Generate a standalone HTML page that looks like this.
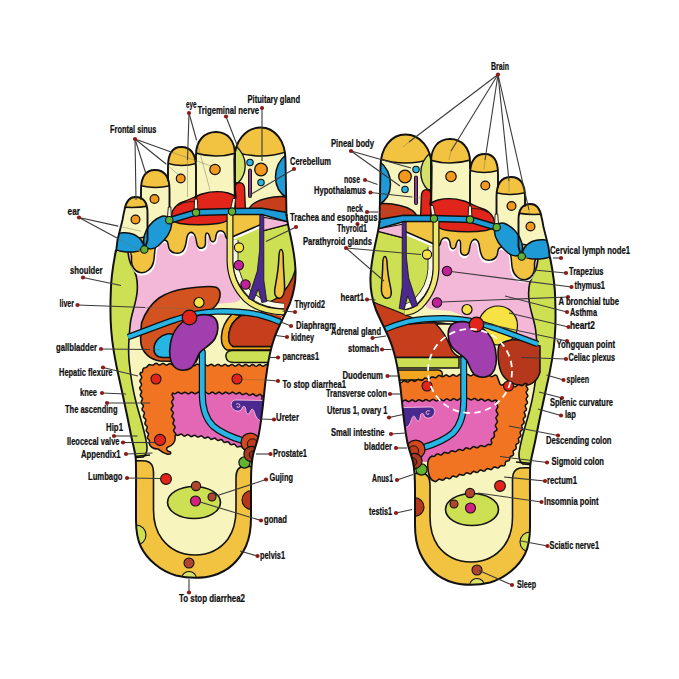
<!DOCTYPE html>
<html lang="en"><head><meta charset="utf-8"><title>Foot reflexology chart</title>
<style>html,body{margin:0;padding:0;background:#fff}body{width:679px;height:679px;overflow:hidden}svg{display:block}text{font-family:"Liberation Sans",sans-serif;font-weight:bold;font-size:10px;fill:#0d0d0d;stroke:#0d0d0d;stroke-width:0.22px}</style></head><body>
<svg width="679" height="679" viewBox="0 0 679 679">
<rect width="679" height="679" fill="#fff"/>
<defs>
<clipPath id="clipFoot">
<path d="M116,250 C113,265 111,278 110.8,292 C110.3,305 110.2,318 111.2,330 C112.3,345 115.3,362 119.5,380 C123,396 126.5,412 130,430 C132.2,442 134.8,450 135.7,458 C136.3,465 136,480 136,500 L136,520 C136,532 137.5,540 141,547 C147,559 160,571 176,575.5 C188,578.5 203,578.5 213,575.5 C229,571 240,559 246,546 C250,537 251,530 251,518 L251,482 C251,470 251.5,462 253,455 C255,447 257,443 258.5,436 C260.5,426 262.5,410 264,395 C265,384 266,376 267.5,367 C269,357 271,348 274,339 C278,327 284.5,316 290,303 C294,292 296,282 295.5,270 C295,258 292.5,245 290.5,236 C288.5,227 287,221 286.5,214 L235,212 L196,213 L168,221 L141,251 Z"/>
<path d="M196,213 L196,155 C196,141 204,132 216,132 C228,132 235,141 235,155 L235,212 Z"/>
<path d="M235,212 L234.3,160 C234.3,141 246,127.5 260.5,127.5 C275,127.5 285.5,141 285.5,160 L286.5,216 Z"/>
<path d="M168,221 L168,167 C168,154 172.5,147 181,147 C190.5,147 196,154 196,168 L196,213 Z"/>
<path d="M141,251 L141,190 C141,177 145.5,170 155,170 C164.5,170 169.5,177 169.5,190 L169.5,221 Z"/>
<path d="M116,252 L117.5,240 L122.5,220 C123.5,214 124,212 124.5,210 C126,201 129.5,197 135.5,197 C142.5,197 147.5,201.5 147.5,213 L147.5,240 L144.5,250 Z"/>
</clipPath>
<clipPath id="clipT2"><path d="M196,213 L196,155 C196,141 204,132 216,132 C228,132 235,141 235,155 L235,212 Z"/></clipPath>
<clipPath id="clipT1"><path d="M235,212 L234.3,160 C234.3,141 246,127.5 260.5,127.5 C275,127.5 285.5,141 285.5,160 L286.5,216 Z"/></clipPath>
<clipPath id="clipT3"><path d="M168,221 L168,167 C168,154 172.5,147 181,147 C190.5,147 196,154 196,168 L196,213 Z"/></clipPath>
<clipPath id="clipT4"><path d="M141,251 L141,190 C141,177 145.5,170 155,170 C164.5,170 169.5,177 169.5,190 L169.5,221 Z"/></clipPath>
<clipPath id="clipT5"><path d="M116,252 L117.5,240 L122.5,220 C123.5,214 124,212 124.5,210 C126,201 129.5,197 135.5,197 C142.5,197 147.5,201.5 147.5,213 L147.5,240 L144.5,250 Z"/></clipPath>
<clipPath id="clipFootR"><use href="#silh" transform="translate(666,7) scale(-1,1)"/></clipPath>
<path id="silh" d="M116,250 C113,265 111,278 110.8,292 C110.3,305 110.2,318 111.2,330 C112.3,345 115.3,362 119.5,380 C123,396 126.5,412 130,430 C132.2,442 134.8,450 135.7,458 C136.3,465 136,480 136,500 L136,520 C136,532 137.5,540 141,547 C147,559 160,571 176,575.5 C188,578.5 203,578.5 213,575.5 C229,571 240,559 246,546 C250,537 251,530 251,518 L251,482 C251,470 251.5,462 253,455 C255,447 257,443 258.5,436 C260.5,426 262.5,410 264,395 C265,384 266,376 267.5,367 C269,357 271,348 274,339 C278,327 284.5,316 290,303 C294,292 296,282 295.5,270 C295,258 292.5,245 290.5,236 C288.5,227 287,221 286.5,214 L235,212 L196,213 L168,221 L141,251 Z"/>
<g id="footA"><g clip-path="url(#clipFoot)"><rect x="100" y="120" width="210" height="470" fill="#F8F4BD"/></g>
<path d="M196,213 L196,155 C196,141 204,132 216,132 C228,132 235,141 235,155 L235,212 Z" fill="#F8F4BD"/>
<g clip-path="url(#clipT2)"><path d="M190,100 L242,100 L242,151 Q216.0,161 190,151 Z" fill="#F2C341" stroke="#111" stroke-width="1.6"/></g>
<path d="M235,212 L234.3,160 C234.3,141 246,127.5 260.5,127.5 C275,127.5 285.5,141 285.5,160 L286.5,216 Z" fill="#F8F4BD"/>
<g clip-path="url(#clipT1)"><path d="M229,100 L292,100 L292,150 Q260.5,162 229,150 Z" fill="#F2C341" stroke="#111" stroke-width="1.6"/></g>
<path d="M168,221 L168,167 C168,154 172.5,147 181,147 C190.5,147 196,154 196,168 L196,213 Z" fill="#F8F4BD"/>
<g clip-path="url(#clipT3)"><path d="M162,100 L202,100 L202,161.5 Q182.0,169.5 162,161.5 Z" fill="#F2C341" stroke="#111" stroke-width="1.6"/></g>
<path d="M141,251 L141,190 C141,177 145.5,170 155,170 C164.5,170 169.5,177 169.5,190 L169.5,221 Z" fill="#F8F4BD"/>
<g clip-path="url(#clipT4)"><path d="M135,100 L176,100 L176,184 Q155.5,191.0 135,184 Z" fill="#F2C341" stroke="#111" stroke-width="1.6"/></g>
<path d="M116,252 L117.5,240 L122.5,220 C123.5,214 124,212 124.5,210 C126,201 129.5,197 135.5,197 C142.5,197 147.5,201.5 147.5,213 L147.5,240 L144.5,250 Z" fill="#F8F4BD"/>
<g clip-path="url(#clipT5)"><path d="M110,100 L154,100 L154,205 Q132.0,210.0 110,205 Z" fill="#F2C341" stroke="#111" stroke-width="1.6"/></g><g clip-path="url(#clipFoot)">
<path d="M128,244 L240,226 L240,300 L215,312 L128,340 Z" fill="#F3B7D8"/>
<path d="M108,246 L128,249 C128,256 129,262 133,268 C137,275 138,284 137,293 C136,303 132,312 130.5,322 C129,335 128,348 129,360 C130.3,374 132.8,390 136.5,404 C140.2,418 145,432 146.8,445 C147.5,450 146,455 143,457 L130,458 L105,400 L105,250 Z" fill="#CDDF52" stroke="#111" stroke-width="1.6"/>
<path d="M233,238 L262,224 L262,231 L289,224 L300,260 L298,300 L283,312 L262,312 C250,304 240,292 236,276 Z" fill="#CDDF52" stroke="#111" stroke-width="1.5"/>
<path d="M262,217 L289,222 L289,224 L262,231 Z" fill="#F3B7D8" stroke="#111" stroke-width="1.1"/>
<path d="M296,268 C292,282 285,292 277,298 C272,301 268,303 264,304 L284,316 L300,300 Z" fill="#C73E1D" stroke="#111" stroke-width="1.35"/>
<path d="M252,310 L282,316 L279,324 L250,316 Z" fill="#C73E1D"/>
<path d="M113,243 L150,236 L170,217 L232,210 L232,237 L262,224 L262,214 L232,210 L232,237 C229,240 226.5,240 225.5,236 C225,232 222,230 219,231 C216,232 216,236 215.5,239 C215,242 212,243 210.5,240 C209.5,236 209,233 207,233 C205,233 205.5,238 205.5,243 C205.5,248.5 200,250 197.5,246 C196,243 196.5,236 193.5,233.5 C190.5,231 188,233 187,237 C186,242 186,248 182.5,251.5 C178.5,254.5 172,253.5 169.5,249.5 C167.5,246 169,242 166,240.5 C162,239 158,242 156,246 C154,250 155,256 153.5,262 C152,269 146,273.5 140,272.5 C134.5,271.5 131,266 131.5,259 C132,254 130,251 128,249 L113,249 Z" fill="#fff" stroke="#fff" stroke-width="2.2" transform="translate(0.8,1.8)"/>
<path d="M113,243 L150,236 L170,217 L232,210 L232,237 L262,224 L262,214 L232,210 L232,237 C229,240 226.5,240 225.5,236 C225,232 222,230 219,231 C216,232 216,236 215.5,239 C215,242 212,243 210.5,240 C209.5,236 209,233 207,233 C205,233 205.5,238 205.5,243 C205.5,248.5 200,250 197.5,246 C196,243 196.5,236 193.5,233.5 C190.5,231 188,233 187,237 C186,242 186,248 182.5,251.5 C178.5,254.5 172,253.5 169.5,249.5 C167.5,246 169,242 166,240.5 C162,239 158,242 156,246 C154,250 155,256 153.5,262 C152,269 146,273.5 140,272.5 C134.5,271.5 131,266 131.5,259 C132,254 130,251 128,249 L113,249 Z" fill="#F2C341" stroke="#111" stroke-width="1.5"/>
<path d="M172.5,211 C175,206 179,203 184,201.5 C190,199.5 196,196 202,194 C210,191.5 220,191 228,193 C231,194 234,195 236,197 L235,187 C236,181 243.5,181 244.5,187.5 L245.5,212 L232,214 C232,219 226,222.5 218,223.5 C206,225 190,225 180,223.5 C175,222.5 172,220 171,218 Z" fill="#E1251B" stroke="#111" stroke-width="1.35"/>
<path d="M178,205.5 C184,202 190,201 198,202" fill="none" stroke="#111" stroke-width="0.8"/>
<path d="M248,211 C250,205 257,200.5 266,198.5 C274,196.5 281,196 288,197 L289,216 L248,213 Z" fill="#C73E1D" stroke="#111" stroke-width="1.35"/>
<path d="M287,154 C279,160 275.5,168 275.5,177 C275.5,186 279,193 287,198 L292,198 L292,154 Z" fill="#1E9BD7" stroke="#111" stroke-width="1.5"/>
<path d="M234.6,145 C241,150 245.3,158 245.2,166 C245,173 242,179 238.3,182.6 L234.6,182.6 Z" fill="#D3E06A" stroke="#111" stroke-width="1.35"/>
<path d="M170,217.2 L196,209.6 L232,208.6 L262,208.2 L290,213 L290,222.5 L262,214.6 L232,214.4 L196,215.4 L171,223 Z" fill="#1E9BD7" stroke="#111" stroke-width="1.5"/>
<path d="M146.5,230 C150,224 156,218.5 162,216.3 C167,215 171.5,219 171.5,225 C171,232 165,240 158,246 C153.5,249.5 147.5,250 145,246.5 C142.5,243 143.5,236 146.5,230 Z" fill="#1E9BD7" stroke="#111" stroke-width="1.5"/>
<path d="M112,236 C118,232.5 127,231.5 134,234.5 C140,237.5 143.5,242.5 143.5,247 C142.5,251 134,252.5 126,252 C120,251.5 115,250 112,248.5 Z" fill="#1E9BD7" stroke="#111" stroke-width="1.5"/>
<path d="M130,461 C134,461 142,460.5 146,461 C151,462 153.5,466 153.5,472 L153.5,510 C153.5,522 156,531 162,539 C170,549.5 182,555 195,555 C208,555 220,549.5 228,539 C233.5,531 236,522 236,510 L236,478 C236,470 239,466.5 244,466.5 L256,466.5 L256,590 L130,590 Z" fill="#F2C341" stroke="#111" stroke-width="1.6"/>
<path d="M134,456.5 C140,456 146,455.5 150,455" fill="none" stroke="#111" stroke-width="1.5"/>
<ellipse cx="194" cy="502.5" rx="26.5" ry="16" fill="#CDDF52" stroke="#111" stroke-width="1.6"/>
<circle cx="251.5" cy="500" r="9.5" fill="#B5371C" stroke="#111" stroke-width="1.1" />
<circle cx="136" cy="535" r="10" fill="#CDDF52" stroke="#111" stroke-width="1.1" />
<circle cx="189" cy="579" r="7.5" fill="#D9E26A" stroke="#111" stroke-width="1.1" />
</g></g>
<g id="footB"><g clip-path="url(#clipFoot)">
<path d="M264,400.5 L236,400 C231,400 229.8,405 232.8,408.7 C236,412.3 241.8,411.8 242.2,407.6 C243,405.8 245.2,406 245.6,408.5 C246,411 246,413.8 248,414.2 C250,414.2 250,410 252,409.2 C254,409 254.2,413 256,416.5 C257.5,419.2 259,420.3 261,420.8 L264,420.5 Z" fill="#4B2A8F" stroke="#F3C4E4" stroke-width="0.9"/>
<path d="M236.2,404.2 C238.6,402.8 240.6,404.6 239.6,406.6 C238.8,408 236.8,407.6 237,406.2" fill="none" stroke="#F3C4E4" stroke-width="1"/>
<path d="M235.3,240 L235.3,262 C236,274 241,285 249.5,293.5 C257,300.5 268,305.5 284,306" fill="none" stroke="#111" stroke-width="6.2" stroke-linecap="butt"/>
<path d="M235.3,240 L235.3,262 C236,274 241,285 249.5,293.5 C257,300.5 268,305.5 284,306" fill="none" stroke="#FBF8E6" stroke-width="4.6" stroke-linecap="butt"/>
<path d="M230,214 L230,262 C230.5,276 236,289 246,299 C255,307.5 268,311.5 284,312" fill="none" stroke="#111" stroke-width="7" stroke-linecap="butt"/>
<path d="M230,214 L230,262 C230.5,276 236,289 246,299 C255,307.5 268,311.5 284,312" fill="none" stroke="#EFE872" stroke-width="4.6" stroke-linecap="butt"/>
<path d="M259.8,215 L263.8,215 L263.8,280 L266.8,301.5 L261.8,302.5 L258.3,289 L253.5,300.5 L248.3,298.5 L257.3,271 L259.6,250 Z" fill="#4B2A8F" stroke="#111" stroke-width="0.8"/>
<path d="M281,249.5 C283,249.5 283.3,254 283.3,260 C283.3,272 285,282 284.5,290 C284,296 281,299 278,298 C274.5,297 274,292 275.5,285 C277,277 278.5,268 278.8,259 C279,253 279.3,249.5 281,249.5 Z" fill="#F2C341" stroke="#111" stroke-width="1.5"/>
<path d="M128,337 C145,331 162,324 176,319.5 C186,316 200,312 216,311.5 C232,311 248,312.5 258,314.5 C268,317 276,320 284,323.5" fill="none" stroke="#111" stroke-width="6.6"/>
<path d="M128,337 C145,331 162,324 176,319.5 C186,316 200,312 216,311.5 C232,311 248,312.5 258,314.5 C268,317 276,320 284,323.5" fill="none" stroke="#27B5E6" stroke-width="4.2"/>
<path d="M202.3,352 L202.3,394 C202.3,408 205,418 213,426 C221,433 232,437.5 244,441" fill="none" stroke="#111" stroke-width="7" stroke-linecap="round"/>
<path d="M202.3,352 L202.3,394 C202.3,408 205,418 213,426 C221,433 232,437.5 244,441" fill="none" stroke="#27B5E6" stroke-width="4.6" stroke-linecap="round"/>
<path d="M196,316 C204,313.5 212,314.5 215.5,319 C219,324 218.5,332 215,338.5 C211,345.5 203,348 199.5,353 C196,358.5 196,364 191,368 C186,371.5 178,371 174,366.5 C169.5,361.5 169,352 170.5,343 C172,334.5 176,327.5 182,322.5 C186,319 191,317.5 196,316 Z" fill="#A23FAE" stroke="#111" stroke-width="1.6"/>
<circle cx="244.5" cy="462.5" r="5.6" fill="#62B233" stroke="#111" stroke-width="1.2" />
<circle cx="250.3" cy="442.4" r="9.3" fill="#D4481F" stroke="#111" stroke-width="1.3" />
<circle cx="252.5" cy="444" r="5.2" fill="#C03C1C" stroke="#111" stroke-width="1.0" />
<circle cx="251.5" cy="454" r="7.6" fill="#A93A20" stroke="#111" stroke-width="1.2" />
<circle cx="253.5" cy="455" r="4.2" fill="#93301A" stroke="#111" stroke-width="0.9" />
</g>
<path d="M116,250 C113,265 111,278 110.8,292 C110.3,305 110.2,318 111.2,330 C112.3,345 115.3,362 119.5,380 C123,396 126.5,412 130,430 C132.2,442 134.8,450 135.7,458 C136.3,465 136,480 136,500 L136,520 C136,532 137.5,540 141,547 C147,559 160,571 176,575.5 C188,578.5 203,578.5 213,575.5 C229,571 240,559 246,546 C250,537 251,530 251,518 L251,482 C251,470 251.5,462 253,455 C255,447 257,443 258.5,436 C260.5,426 262.5,410 264,395 C265,384 266,376 267.5,367 C269,357 271,348 274,339 C278,327 284.5,316 290,303 C294,292 296,282 295.5,270 C295,258 292.5,245 290.5,236 C288.5,227 287,221 286.5,214" fill="none" stroke="#111" stroke-width="2.0" stroke-linejoin="round"/><path d="M196,162 L196,155 C196,141 204,132 216,132 C228,132 235,141 235,155 L235,212" fill="none" stroke="#111" stroke-width="1.9" stroke-linejoin="round"/>
<path d="M235,212 L234.3,160 C234.3,141 246,127.5 260.5,127.5 C275,127.5 285.5,141 285.5,160 L286.5,216" fill="none" stroke="#111" stroke-width="1.9" stroke-linejoin="round"/>
<path d="M168,181 L168,167 C168,154 172.5,147 181,147 C190.5,147 196,154 196,168 L196,213" fill="none" stroke="#111" stroke-width="1.9" stroke-linejoin="round"/>
<path d="M141,199.5 L141,190 C141,177 145.5,170 155,170 C164.5,170 169.5,177 169.5,190 L169.5,221" fill="none" stroke="#111" stroke-width="1.9" stroke-linejoin="round"/>
<path d="M116,252 L117.5,240 L122.5,220 C123.5,214 124,212 124.5,210 C126,201 129.5,197 135.5,197 C142.5,197 147.5,201.5 147.5,213 L147.5,240 L144.5,250" fill="none" stroke="#111" stroke-width="1.9" stroke-linejoin="round"/><circle cx="215" cy="169.5" r="5.2" fill="#F39A1E" stroke="#111" stroke-width="1.2" />
<circle cx="180.7" cy="178.5" r="4.4" fill="#F39A1E" stroke="#111" stroke-width="1.2" />
<circle cx="154.5" cy="199" r="4.4" fill="#F39A1E" stroke="#111" stroke-width="1.2" />
<circle cx="135.5" cy="219.5" r="4.4" fill="#F39A1E" stroke="#111" stroke-width="1.2" />
<circle cx="261" cy="169.5" r="6.3" fill="#F39A1E" stroke="#111" stroke-width="1.3" />
<circle cx="250" cy="162.5" r="3.2" fill="#27B5E6" stroke="#111" stroke-width="1.1" />
<circle cx="261" cy="182.5" r="3.2" fill="#27B5E6" stroke="#111" stroke-width="1.1" />
<rect x="248.6" y="169" width="2.8" height="28.5" rx="1.4" fill="#A23FAE" stroke="#111" stroke-width="1.1"/>
<path d="M168.29999999999998,207 L170.9,207 L171.3,217 L167.5,217 Z" fill="#FBF6D8" stroke="#111" stroke-width="0.9" stroke-linejoin="round"/>
<path d="M194.7,199 L197.3,199 L197.9,209.5 L194.1,209.5 Z" fill="#FBF6D8" stroke="#111" stroke-width="0.9" stroke-linejoin="round"/>
<path d="M232.89999999999998,198.5 L235.5,198.5 L234.5,208.5 L230.7,208.5 Z" fill="#FBF6D8" stroke="#111" stroke-width="0.9" stroke-linejoin="round"/>
<circle cx="144.3" cy="249.5" r="3.7" fill="#62B233" stroke="#111" stroke-width="1.1" />
<circle cx="169.3" cy="220.2" r="3.7" fill="#62B233" stroke="#111" stroke-width="1.1" />
<circle cx="196" cy="212.6" r="3.7" fill="#62B233" stroke="#111" stroke-width="1.1" />
<circle cx="232" cy="211.6" r="3.7" fill="#62B233" stroke="#111" stroke-width="1.1" />
<circle cx="239" cy="247.5" r="4.6" fill="#F6E343" stroke="#111" stroke-width="1.1" />
<circle cx="199" cy="302.5" r="5" fill="#F6E343" stroke="#111" stroke-width="1.2" />
<circle cx="189.5" cy="317.5" r="7.3" fill="#E1251B" stroke="#111" stroke-width="1.2" />
<circle cx="166" cy="479" r="5.4" fill="#E1251B" stroke="#111" stroke-width="1.1" />
<circle cx="196" cy="486" r="4.6" fill="#B0452F" stroke="#111" stroke-width="1.1" />
<circle cx="212" cy="497" r="4" fill="#B0452F" stroke="#111" stroke-width="1.1" />
<circle cx="195.5" cy="501" r="5" fill="#D3227F" stroke="#111" stroke-width="1.1" />
<circle cx="189" cy="563" r="5" fill="#B0452F" stroke="#111" stroke-width="1.1" /></g>
</defs>
<g id="left-foot">
<use href="#footA"/>
<g clip-path="url(#clipFoot)">
<path d="M130,338 L176,321 L216,313 L260,316 L262,300 L215,304 Z" fill="#F8F4BD"/>
<path d="M141.5,323 C145,313 151,304 159,298 C167,292.5 176,290 186,288.5 C198,287 210,285.3 216,287.3 C221,289.3 221,296 218.5,301.5 C215.5,307.5 210,311 204,313 L206,340 L196,362 L160,361 C150,359.5 143,353 141,344 C140,337 141,330 141.5,324 Z" fill="#D2531F" stroke="#111" stroke-width="1.6"/>
<path d="M167,334 C160,335.5 154.5,341 154,348 C153.5,354 157,357.5 163,357.5 L176,357.5 L176,336 C173,334 170,333.5 167,334 Z" fill="#27B5E6" stroke="#111" stroke-width="1.6"/>
<path d="M212,314 L262,316 L262,366 L212,366 Z" fill="#F8F4BD"/>
<path d="M232,314 C226,320 222,328 221.5,336 C221,343 223,348 227,350 L272,350 L272,346.5 L233,346.5 C229,344 228,339 229,333 C230,326 234,320 241,315.5 Z" fill="#F2A61F" stroke="#111" stroke-width="1.5"/>
<path d="M241,315.5 C234,320 230,326 229,333 C228,339 229,344 233,346.5 L280,346.5 L290,322 C275,318 258,314.5 241,315.5 Z" fill="#C73E1D" stroke="#111" stroke-width="1.5"/>
<path d="M232,350.5 C227,350.5 225.5,354 226,357 C226.5,361 230,362.5 234,362.5 L272,362.5 L272,350.5 Z" fill="#CDDF52" stroke="#111" stroke-width="1.5"/>
<path d="M166,386 L262,386 L262,452 L261.0,450.9 L259.7,450.8 L258.3,451.5 L256.9,451.8 L255.8,451.0 L254.8,449.8 L253.6,449.2 L252.2,449.7 L250.8,450.3 L249.6,449.9 L248.6,448.8 L247.5,447.8 L246.2,447.9 L244.8,448.6 L243.5,448.7 L242.4,447.8 L241.4,446.6 L240.2,446.2 L238.7,446.7 L237.2,447.0 L236.1,446.1 L235.2,444.7 L234.0,444.0 L232.5,444.4 L231.0,444.7 L229.8,444.0 L228.9,442.6 L227.8,441.8 L226.3,442.1 L224.7,442.5 L223.5,441.9 L222.6,440.6 L221.5,439.6 L220.1,439.8 L218.6,440.5 L217.4,440.3 L216.3,439.3 L215.1,438.3 L213.8,438.3 L212.4,439.1 L211.1,439.4 L210.0,438.5 L208.9,437.4 L207.6,437.0 L206.2,437.7 L204.9,438.2 L203.6,437.7 L202.6,436.5 L201.4,435.8 L200.0,436.2 L198.7,437.1 L197.4,437.1 L196.2,436.1 L195.0,435.2 L193.7,435.4 L192.4,436.2 L191.1,436.7 L189.9,436.0 L188.7,434.9 L187.4,434.6 L186.1,435.4 L184.8,436.1 L183.5,435.8 L182.3,434.7 L181.1,434.0 L179.8,434.5 L178.5,435.3 L177.2,435.4 L176.0,434.5 L166,430 Z" fill="#E467B5" stroke="#111" stroke-width="1.5"/>
<path d="M140.5,373 L142.1,372.5 L142.7,371.1 L142.8,369.4 L143.6,368.1 L145.2,367.7 L146.7,367.1 L147.4,366.4 L148.5,365.0 L149.8,364.5 L151.4,365.1 L152.9,365.3 L154.1,364.3 L155.3,363.4 L156.6,363.2 L157.8,364.1 L159.1,365.0 L160.4,364.8 L161.7,363.8 L163.0,363.3 L164.2,363.9 L165.5,364.9 L166.8,365.1 L168.1,364.4 L169.4,363.5 L170.6,363.7 L171.9,364.6 L173.1,365.3 L174.4,364.9 L175.7,363.9 L177.0,363.6 L178.3,364.4 L179.5,365.3 L180.8,365.3 L182.1,364.5 L183.4,363.8 L184.7,364.1 L185.9,365.1 L187.2,365.6 L188.5,365.0 L189.8,364.1 L191.1,364.0 L192.3,364.9 L193.6,365.7 L194.9,365.5 L196.2,364.5 L197.5,364.0 L198.7,364.6 L200.0,365.6 L201.2,365.9 L202.5,365.1 L203.8,364.2 L205.0,364.3 L206.2,365.2 L207.5,365.9 L208.7,365.6 L210.0,364.7 L211.3,364.2 L212.5,364.7 L213.7,365.7 L215.0,366.0 L216.2,365.2 L217.5,364.4 L218.8,364.4 L220.0,365.3 L221.2,366.0 L222.5,365.7 L223.8,364.8 L225.0,364.3 L226.3,364.8 L227.5,365.8 L228.7,366.1 L230.0,365.3 L231.3,364.5 L232.5,364.4 L233.7,365.3 L235.0,366.1 L236.2,365.9 L237.5,364.9 L238.8,364.4 L240.0,364.9 L241.2,365.8 L242.5,366.2 L243.7,365.5 L245.0,364.6 L246.3,364.5 L247.5,365.4 L248.7,366.2 L250.0,366.0 L251.3,365.0 L252.5,364.5 L253.8,364.9 L255.0,365.9 L256.2,366.3 L257.5,365.6 L258.8,364.7 L260.0,364.6 L261.2,365.4 L262.5,366.2 L263.7,366.1 L265.0,365.2 L266.3,364.5 L267.5,365.0 L268.7,366.0 L270.0,366.4 L271.2,365.7 L272.5,364.8 L273.8,364.7 L275.0,365.5 L275,396 L273.8,395.1 L272.5,395.2 L271.2,396.1 L270.0,396.6 L268.7,396.1 L267.5,395.1 L266.3,394.7 L265.0,395.3 L263.7,396.2 L262.5,396.1 L261.3,395.2 L260.0,394.4 L258.8,394.6 L257.5,395.5 L256.2,396.0 L255.0,395.3 L253.8,394.2 L252.6,393.9 L251.3,394.6 L249.9,395.3 L248.7,395.1 L247.5,394.0 L246.3,393.2 L245.0,393.6 L243.7,394.4 L242.4,394.6 L241.2,393.8 L240.1,392.8 L238.8,392.6 L237.5,393.4 L236.2,394.0 L234.9,393.6 L233.8,392.6 L232.5,392.1 L231.2,392.7 L230.0,393.6 L228.8,393.8 L227.5,393.0 L226.2,392.2 L225.0,392.3 L223.8,393.3 L222.5,393.9 L221.2,393.5 L220.0,392.5 L218.8,392.1 L217.5,392.8 L216.2,393.7 L215.0,393.8 L213.8,392.9 L212.5,392.1 L211.2,392.4 L210.0,393.4 L208.8,393.9 L207.5,393.4 L206.2,392.4 L205.0,392.1 L203.7,392.9 L202.4,393.8 L201.2,393.7 L199.9,392.7 L198.6,392.1 L197.3,392.6 L196.0,393.6 L194.8,393.8 L193.5,393.0 L192.2,392.2 L190.9,392.3 L189.6,393.3 L188.4,393.9 L187.1,393.4 L185.8,392.4 L184.5,392.2 L183.2,393.0 L182.0,393.8 L180.7,393.6 L179.4,392.7 L178.1,392.1 L176.8,392.6 L175.6,393.6 L174.3,393.8 L173.0,393.0 L172.1,394.3 L172.2,395.6 L173.0,396.9 L173.6,398.3 L173.1,399.6 L172.1,400.8 L171.6,402.1 L172.1,403.4 L173.0,404.8 L173.0,406.1 L172.1,407.4 L171.3,408.6 L171.3,410.0 L172.4,411.2 L173.2,412.4 L173.1,413.7 L172.3,415.0 L171.9,416.4 L172.5,417.6 L173.6,418.7 L174.2,419.9 L173.8,421.2 L173.1,422.6 L173.0,423.9 L173.8,425.0 L174.9,426.3 L175.0,427.7 L174.1,429.1 L173.6,430.6 L174.2,431.9 L175.3,433.2 L175.7,434.5 L175.0,436.0 C176,442 172,446 168,447 C166,448 166,451 169,451.5 C172,452 171,455 167,454 C162,453 160,450 158,449 C154,449 150,447 149,443 L149.6,441.6 L149.3,440.3 L148.1,439.1 L147.3,437.9 L147.6,436.6 L148.3,435.1 L148.5,433.8 L147.6,432.6 L146.5,431.4 L146.2,430.1 L146.8,428.7 L147.3,427.3 L146.9,426.1 L145.8,425.0 L144.9,423.9 L145.0,422.6 L145.7,421.2 L145.9,419.8 L145.1,418.7 L143.9,417.6 L143.4,416.4 L143.8,415.0 L144.4,413.6 L144.3,412.3 L143.2,411.3 L142.2,410.2 L142.1,408.8 L142.9,407.5 L143.4,406.1 L143.0,404.9 L141.9,403.8 L141.2,402.6 L141.4,401.3 L142.2,399.9 L142.5,398.6 L141.8,397.5 L140.7,396.3 L140.3,395.1 L140.8,393.8 L141.5,392.4 L141.5,391.1 L140.6,390.0 L139.8,388.7 L139.8,387.4 L140.8,386.1 L141.5,384.9 L141.3,383.6 L140.4,382.3 L139.9,381.0 L140.4,379.7 L141.4,378.4 L141.7,377.2 L141.1,375.9 L140.2,374.6 L140.2,373.3 L141.0,372.0 Z" fill="#F17422" stroke="#111" stroke-width="1.5"/>
</g>
<use href="#footB"/>
<circle cx="238.8" cy="265.2" r="4.7" fill="#C4209C" stroke="#111" stroke-width="1.1" />
<circle cx="245.5" cy="284.5" r="4.7" fill="#C4209C" stroke="#111" stroke-width="1.1" />
<circle cx="156" cy="379" r="5" fill="#E1251B" stroke="#111" stroke-width="1.1" />
<circle cx="237" cy="379" r="5" fill="#E1251B" stroke="#111" stroke-width="1.1" />
<circle cx="160" cy="440" r="5.6" fill="#E1251B" stroke="#111" stroke-width="1.1" />
</g>
<g id="right-foot">
<g transform="translate(666,7) scale(-1,1)"><g clip-path="url(#clipFoot)"><rect x="100" y="120" width="210" height="470" fill="#F8F4BD"/></g>
<path d="M196,213 L196,155 C196,141 204,132 216,132 C228,132 235,141 235,155 L235,212 Z" fill="#F8F4BD"/>
<g clip-path="url(#clipT2)"><path d="M190,100 L242,100 L242,151 Q216.0,161 190,151 Z" fill="#F2C341" stroke="#111" stroke-width="1.6"/></g>
<path d="M235,212 L234.3,160 C234.3,141 246,127.5 260.5,127.5 C275,127.5 285.5,141 285.5,160 L286.5,216 Z" fill="#F8F4BD"/>
<g clip-path="url(#clipT1)"><path d="M229,100 L292,100 L292,150 Q260.5,162 229,150 Z" fill="#F2C341" stroke="#111" stroke-width="1.6"/></g>
<path d="M168,221 L168,167 C168,154 172.5,147 181,147 C190.5,147 196,154 196,168 L196,213 Z" fill="#F8F4BD"/>
<g clip-path="url(#clipT3)"><path d="M162,100 L202,100 L202,161.5 Q182.0,169.5 162,161.5 Z" fill="#F2C341" stroke="#111" stroke-width="1.6"/></g>
<path d="M141,251 L141,190 C141,177 145.5,170 155,170 C164.5,170 169.5,177 169.5,190 L169.5,221 Z" fill="#F8F4BD"/>
<g clip-path="url(#clipT4)"><path d="M135,100 L176,100 L176,184 Q155.5,191.0 135,184 Z" fill="#F2C341" stroke="#111" stroke-width="1.6"/></g>
<path d="M116,252 L117.5,240 L122.5,220 C123.5,214 124,212 124.5,210 C126,201 129.5,197 135.5,197 C142.5,197 147.5,201.5 147.5,213 L147.5,240 L144.5,250 Z" fill="#F8F4BD"/>
<g clip-path="url(#clipT5)"><path d="M110,100 L154,100 L154,205 Q132.0,210.0 110,205 Z" fill="#F2C341" stroke="#111" stroke-width="1.6"/></g><g clip-path="url(#clipFoot)">
<path d="M128,244 L240,226 L240,300 L215,312 L128,340 Z" fill="#F3B7D8"/>
<path d="M108,246 L128,249 C128,256 129,262 133,268 C137,275 138,284 137,293 C136,303 132,312 130.5,322 C129,335 128,348 129,360 C130.3,374 132.8,390 136.5,404 C140.2,418 145,432 146.8,445 C147.5,450 146,455 143,457 L130,458 L105,400 L105,250 Z" fill="#CDDF52" stroke="#111" stroke-width="1.6"/>
<path d="M233,238 L262,224 L262,231 L289,224 L300,260 L298,300 L283,312 L262,312 C250,304 240,292 236,276 Z" fill="#CDDF52" stroke="#111" stroke-width="1.5"/>
<path d="M262,217 L289,222 L289,224 L262,231 Z" fill="#F3B7D8" stroke="#111" stroke-width="1.1"/>
<path d="M252,310 L282,316 L279,324 L250,316 Z" fill="#C73E1D"/>
<path d="M113,243 L150,236 L170,217 L232,210 L232,237 L262,224 L262,214 L232,210 L232,237 C229,240 226.5,240 225.5,236 C225,232 222,230 219,231 C216,232 216,236 215.5,239 C215,242 212,243 210.5,240 C209.5,236 209,233 207,233 C205,233 205.5,238 205.5,243 C205.5,248.5 200,250 197.5,246 C196,243 196.5,236 193.5,233.5 C190.5,231 188,233 187,237 C186,242 186,248 182.5,251.5 C178.5,254.5 172,253.5 169.5,249.5 C167.5,246 169,242 166,240.5 C162,239 158,242 156,246 C154,250 155,256 153.5,262 C152,269 146,273.5 140,272.5 C134.5,271.5 131,266 131.5,259 C132,254 130,251 128,249 L113,249 Z" fill="#fff" stroke="#fff" stroke-width="2.2" transform="translate(0.8,1.8)"/>
<path d="M113,243 L150,236 L170,217 L232,210 L232,237 L262,224 L262,214 L232,210 L232,237 C229,240 226.5,240 225.5,236 C225,232 222,230 219,231 C216,232 216,236 215.5,239 C215,242 212,243 210.5,240 C209.5,236 209,233 207,233 C205,233 205.5,238 205.5,243 C205.5,248.5 200,250 197.5,246 C196,243 196.5,236 193.5,233.5 C190.5,231 188,233 187,237 C186,242 186,248 182.5,251.5 C178.5,254.5 172,253.5 169.5,249.5 C167.5,246 169,242 166,240.5 C162,239 158,242 156,246 C154,250 155,256 153.5,262 C152,269 146,273.5 140,272.5 C134.5,271.5 131,266 131.5,259 C132,254 130,251 128,249 L113,249 Z" fill="#F2C341" stroke="#111" stroke-width="1.5"/>
<path d="M172.5,211 C175,206 179,203 184,201.5 C190,199.5 196,196 202,194 C210,191.5 220,191 228,193 C231,194 234,195 236,197 L235,187 C236,181 243.5,181 244.5,187.5 L245.5,212 L232,214 C232,219 226,222.5 218,223.5 C206,225 190,225 180,223.5 C175,222.5 172,220 171,218 Z" fill="#E1251B" stroke="#111" stroke-width="1.35"/>
<path d="M178,205.5 C184,202 190,201 198,202" fill="none" stroke="#111" stroke-width="0.8"/>
<path d="M248,211 C250,205 257,200.5 266,198.5 C274,196.5 281,196 288,197 L289,216 L248,213 Z" fill="#C73E1D" stroke="#111" stroke-width="1.35"/>
<path d="M287,154 C279,160 275.5,168 275.5,177 C275.5,186 279,193 287,198 L292,198 L292,154 Z" fill="#1E9BD7" stroke="#111" stroke-width="1.5"/>
<path d="M234.6,145 C241,150 245.3,158 245.2,166 C245,173 242,179 238.3,182.6 L234.6,182.6 Z" fill="#D3E06A" stroke="#111" stroke-width="1.35"/>
<path d="M170,217.2 L196,209.6 L232,208.6 L262,208.2 L290,213 L290,222.5 L262,214.6 L232,214.4 L196,215.4 L171,223 Z" fill="#1E9BD7" stroke="#111" stroke-width="1.5"/>
<path d="M146.5,230 C150,224 156,218.5 162,216.3 C167,215 171.5,219 171.5,225 C171,232 165,240 158,246 C153.5,249.5 147.5,250 145,246.5 C142.5,243 143.5,236 146.5,230 Z" fill="#1E9BD7" stroke="#111" stroke-width="1.5"/>
<path d="M112,236 C118,232.5 127,231.5 134,234.5 C140,237.5 143.5,242.5 143.5,247 C142.5,251 134,252.5 126,252 C120,251.5 115,250 112,248.5 Z" fill="#1E9BD7" stroke="#111" stroke-width="1.5"/>
<path d="M130,461 C134,461 142,460.5 146,461 C151,462 153.5,466 153.5,472 L153.5,510 C153.5,522 156,531 162,539 C170,549.5 182,555 195,555 C208,555 220,549.5 228,539 C233.5,531 236,522 236,510 L236,478 C236,470 239,466.5 244,466.5 L256,466.5 L256,590 L130,590 Z" fill="#F2C341" stroke="#111" stroke-width="1.6"/>
<path d="M134,456.5 C140,456 146,455.5 150,455" fill="none" stroke="#111" stroke-width="1.5"/>
<ellipse cx="194" cy="502.5" rx="26.5" ry="16" fill="#CDDF52" stroke="#111" stroke-width="1.6"/>
<circle cx="251.5" cy="500" r="9.5" fill="#B5371C" stroke="#111" stroke-width="1.1" />
<circle cx="136" cy="535" r="10" fill="#CDDF52" stroke="#111" stroke-width="1.1" />
<circle cx="189" cy="579" r="7.5" fill="#D9E26A" stroke="#111" stroke-width="1.1" />
</g></g>
<g clip-path="url(#clipFootR)">
<path d="M536,345 L490,328 L450,320 L406,323 L404,307 L451,311 Z" fill="#F8F4BD"/>
<circle cx="498" cy="325.5" r="19.5" fill="#F6E343" stroke="#111" stroke-width="1.2" />
<path d="M499,345 C505,340 515,339 524,341 L540,346 L540,372 C538,380 532,385.5 524,385.5 C514,385.5 506,381 502,374 C498,366 497,352 499,345 Z" fill="#B5371C" stroke="#111" stroke-width="1.5"/>
<path d="M380,326 L425,323 C440,322 452,324 458,328 L458,357.5 L392,357.5 Z" fill="#C73E1D" stroke="#111" stroke-width="1.5"/>
<path d="M436,324 C442,330 447,338 450,346 C452,352 456,356 461,357.5 L461,324 Z" fill="#F8F4BD" stroke="#111" stroke-width="1.35"/>
<path d="M394,357.5 L459,357.5 L459,368 L396,368 Z" fill="#CDDF52" stroke="#111" stroke-width="1.5"/>
<path d="M396,370 L438,370 C442,370 443,373 442,376 C441,379 438,380 434,380 L398,380 Z" fill="#F2A61F" stroke="#111" stroke-width="1.35"/>
<path d="M398,392 L503,392 L503,452 L425,462 L398,455 Z" fill="#E467B5"/>
<path d="M399,382 L400.4,382.7 L401.7,382.4 L402.9,381.3 L404.2,380.6 L405.5,381.0 L406.9,381.9 L408.3,382.0 L409.5,381.0 L410.7,380.1 L412.1,380.1 L413.5,381.0 L414.8,381.4 L416.1,380.7 L417.3,379.6 L418.6,379.3 L420.0,380.0 L421.4,380.5 L422.6,380.2 L423.7,379.0 L424.8,378.1 L426.1,378.2 L427.6,378.9 L428.9,379.1 L430.1,378.3 L431.1,377.1 L432.3,376.7 L433.7,377.2 L435.2,377.8 L436.4,377.5 L437.5,376.3 L438.6,375.4 L439.9,375.5 L441.3,376.4 L442.5,376.8 L443.8,376.3 L445.0,375.3 L446.2,374.9 L447.5,375.5 L448.8,376.4 L450.0,376.5 L451.3,375.7 L452.5,374.8 L453.7,374.8 L455.0,375.7 L456.3,376.3 L457.5,376.0 L458.7,375.0 L460.0,374.4 L461.2,374.8 L462.5,375.8 L463.8,376.1 L465.0,375.4 L466.2,374.5 L467.5,374.2 L468.7,374.9 L470.0,375.8 L471.3,375.8 L472.6,374.9 L473.9,374.3 L475.2,374.6 L476.4,375.6 L477.7,376.2 L479.0,375.7 L480.3,374.8 L481.6,374.6 L482.9,375.4 L484.1,376.3 L485.4,376.3 L486.7,375.4 L488.0,374.8 L489.3,375.2 L490.6,376.2 L491.8,376.7 L493.1,376.1 L494.5,375.2 L495.7,375.1 L497.0,376.0 L500,384 L501.1,385.0 L502.4,385.0 L503.8,384.2 L505.1,383.8 L506.3,384.4 L507.4,385.6 L508.6,386.0 L510.0,385.5 L511.4,384.7 L512.6,384.9 L513.7,386.0 L514.9,386.9 L516.4,386.2 L517.6,385.0 L518.9,384.5 L520.3,385.2 L521.8,385.7 L523.1,385.2 L524.2,383.9 L525.5,383.4 L527.0,384.0 L526.1,385.3 L526.4,386.7 L527.5,388.0 L527.9,389.3 L527.1,390.7 L526.2,392.0 L526.4,393.3 L527.4,394.7 L527.9,396.0 L527.1,397.3 L526.2,398.7 L526.3,400.0 L527.1,401.3 L527.5,402.6 L526.8,403.8 L525.6,404.9 L525.2,406.1 L525.8,407.5 L526.5,408.9 L526.2,410.1 L525.0,411.2 L524.2,412.4 L524.6,413.7 L525.3,415.1 L525.4,416.4 L524.4,417.5 L523.4,418.6 L523.3,419.9 L524.0,421.3 L524.2,422.7 L523.4,423.8 L522.1,424.8 L521.6,426.1 L522.2,427.5 L522.6,429.0 L522.0,430.1 L520.7,431.1 L520.0,432.3 L520.4,433.7 L521.0,435.2 L520.7,436.4 L519.4,437.4 L518.4,438.5 L518.6,439.9 L519.0,441.5 L518.7,442.8 L517.3,443.7 L516.0,444.6 L515.9,446.0 L516.3,447.6 L516.0,448.9 L514.6,449.8 L513.4,450.7 L513.2,452.1 L513.6,453.8 L513.3,455.1 L512.0,456.0 L510.5,456.4 L509.8,457.7 L509.7,459.4 L509.0,460.6 L507.5,461.0 L506.0,461.4 L505.3,462.7 L505.2,464.4 L504.5,465.6 L503.0,466.0 L501.5,465.5 L500.3,465.9 L499.2,467.2 L498.1,468.0 L496.7,467.8 L495.2,467.1 L493.8,467.2 L492.7,468.2 L491.6,469.4 L490.3,469.5 L488.8,468.9 L487.4,468.6 L486.2,469.3 L485.1,470.6 L483.9,471.1 L482.5,470.7 L481.1,470.0 L479.8,470.2 L478.8,471.3 L477.7,472.3 L476.4,472.4 L474.9,471.7 L473.6,471.4 L472.4,472.1 L471.4,473.3 L470.2,473.9 L468.8,473.5 L467.4,472.8 L466.1,472.9 L465.0,474.0 L463.9,475.1 L462.7,475.3 L461.2,474.7 L459.8,474.4 L458.6,475.1 L457.6,476.4 L456.5,477.0 L455.1,476.7 L453.6,476.1 L452.3,476.3 L451.3,477.5 L450.2,478.6 L448.9,478.7 L447.4,478.1 L446.0,477.8 L444.9,478.6 L443.7,479.8 L442.4,480.3 L440.9,479.7 L439.3,479.1 L438.0,479.8 L436.8,481.0 L435.5,481.6 L434.0,481.0 C430,480 428,474 428,468 C427,462 428,458 432,456 L433.5,456.5 L434.7,456.1 L435.8,454.9 L437.0,454.0 L438.3,454.0 L439.8,454.7 L441.2,454.9 L442.4,454.1 L443.5,452.9 L444.7,452.3 L446.1,452.7 L447.6,453.3 L448.9,453.1 L450.0,452.0 L451.1,451.0 L452.4,450.8 L453.8,451.3 L455.2,451.8 L456.4,451.4 L457.5,450.3 L458.6,449.4 L459.9,449.4 L461.3,450.0 L462.7,450.4 L463.9,449.8 L464.9,448.6 L466.1,447.9 L467.4,448.1 L468.8,448.7 L470.2,448.9 L471.3,448.2 L472.4,447.1 L473.6,446.6 L475.0,447.0 L476.3,447.7 L477.6,447.7 L478.8,446.9 L479.9,445.9 L481.1,445.5 L482.5,446.0 L483.9,446.6 L485.1,446.6 L486.3,445.6 L487.4,444.6 L488.6,444.4 L490.0,445.0 L491.3,444.1 L491.7,442.8 L491.3,441.2 L491.2,439.7 L492.0,438.5 L493.4,437.6 L494.3,436.6 L494.4,435.1 L494.0,433.5 L494.2,432.2 L495.3,431.2 L496.7,430.3 L496.9,428.8 L496.3,427.5 L495.5,426.2 L495.5,424.9 L496.3,423.7 L497.2,422.5 L497.4,421.3 L496.8,420.0 L496.1,418.7 L496.0,417.4 L496.8,416.2 L497.7,415.0 L497.8,413.7 L497.1,412.5 L496.3,411.2 L496.2,409.9 L496.9,408.6 L497.7,407.4 L497.8,406.1 L497.0,404.8 L496.2,403.5 L496.2,402.3 L497.0,401.0 L495.8,400.1 L494.5,400.2 L493.1,401.0 L491.8,401.5 L490.5,400.9 L489.3,399.8 L488.1,399.5 L486.7,400.2 L485.4,400.9 L484.1,400.7 L482.9,399.7 L481.6,399.0 L480.3,399.3 L479.0,400.2 L477.6,400.4 L476.4,399.6 L475.2,398.6 L473.9,398.5 L472.6,399.4 L471.2,400.0 L470.0,399.5 L468.7,398.6 L467.5,398.2 L466.2,398.8 L465.0,399.8 L463.8,400.1 L462.5,399.3 L461.2,398.5 L460.0,398.6 L458.8,399.5 L457.5,400.3 L456.3,400.0 L455.0,399.1 L453.7,398.6 L452.5,399.2 L451.3,400.2 L450.0,400.5 L448.8,399.9 L447.5,399.0 L446.2,399.0 L445.0,399.9 L443.8,400.7 L442.5,400.6 L441.2,399.7 L440.0,399.1 L438.7,399.6 L437.5,400.6 L436.3,401.0 L435.0,400.4 L433.7,399.5 L432.5,399.4 L431.2,400.2 L430.0,401.0 L428.8,401.0 L427.5,400.1 L426.2,399.5 L425.0,399.8 L423.8,400.8 L422.5,401.3 L421.3,400.8 L420.0,399.9 L418.7,399.7 L417.5,400.4 L416.3,401.3 L415.0,401.4 L413.7,400.6 L412.5,399.8 L411.2,400.1 L410.0,401.1 L408.8,401.7 L407.5,401.3 L406.2,400.3 L405.0,400.0 L403.7,400.7 L402.5,401.6 L401.3,401.8 L400.0,401.0 Z" fill="#F17422" stroke="#111" stroke-width="1.5"/>
</g>
<g transform="translate(666,7) scale(-1,1)"><g clip-path="url(#clipFoot)">
<path d="M264,400.5 L236,400 C231,400 229.8,405 232.8,408.7 C236,412.3 241.8,411.8 242.2,407.6 C243,405.8 245.2,406 245.6,408.5 C246,411 246,413.8 248,414.2 C250,414.2 250,410 252,409.2 C254,409 254.2,413 256,416.5 C257.5,419.2 259,420.3 261,420.8 L264,420.5 Z" fill="#4B2A8F" stroke="#F3C4E4" stroke-width="0.9"/>
<path d="M236.2,404.2 C238.6,402.8 240.6,404.6 239.6,406.6 C238.8,408 236.8,407.6 237,406.2" fill="none" stroke="#F3C4E4" stroke-width="1"/>
<path d="M300,292 L288,297 L271,303.5 L254,310.5 L262,315.5 L283,322.5 L300,320 Z" fill="#C73E1D" stroke="#111" stroke-width="1.3"/>
<path d="M235.3,240 L235.3,262 C236,274 241,285 249.5,293.5 C253,296.8 257,299 262,300" fill="none" stroke="#111" stroke-width="6.2" stroke-linecap="butt"/>
<path d="M235.3,240 L235.3,262 C236,274 241,285 249.5,293.5 C253,296.8 257,299 262,300" fill="none" stroke="#FBF8E6" stroke-width="4.6" stroke-linecap="butt"/>
<path d="M230,214 L230,262 C230.5,276 236,289 246,299 C250.5,303 255.5,305.3 261.5,305.6" fill="none" stroke="#111" stroke-width="7" stroke-linecap="butt"/>
<path d="M230,214 L230,262 C230.5,276 236,289 246,299 C250.5,303 255.5,305.3 261.5,305.6" fill="none" stroke="#EFE872" stroke-width="4.6" stroke-linecap="butt"/>
<path d="M259.8,215 L263.8,215 L263.8,280 L266.8,301.5 L261.8,302.5 L258.3,289 L253.5,300.5 L248.3,298.5 L257.3,271 L259.6,250 Z" fill="#4B2A8F" stroke="#111" stroke-width="0.8"/>
<path d="M281,249.5 C283,249.5 283.3,254 283.3,260 C283.3,272 285,282 284.5,290 C284,296 281,299 278,298 C274.5,297 274,292 275.5,285 C277,277 278.5,268 278.8,259 C279,253 279.3,249.5 281,249.5 Z" fill="#F2C341" stroke="#111" stroke-width="1.5" transform="translate(0,249.5) scale(1,0.86) translate(0,-249.5)"/>
<path d="M128,337 C145,331 162,324 176,319.5 C186,316 200,312 216,311.5 C232,311 248,312.5 258,314.5 C268,317 276,320 284,323.5" fill="none" stroke="#111" stroke-width="6.6"/>
<path d="M128,337 C145,331 162,324 176,319.5 C186,316 200,312 216,311.5 C232,311 248,312.5 258,314.5 C268,317 276,320 284,323.5" fill="none" stroke="#27B5E6" stroke-width="4.2"/>
<path d="M202.3,352 L202.3,394 C202.3,408 205,418 213,426 C221,433 232,437.5 244,441" fill="none" stroke="#111" stroke-width="7" stroke-linecap="round"/>
<path d="M202.3,352 L202.3,394 C202.3,408 205,418 213,426 C221,433 232,437.5 244,441" fill="none" stroke="#27B5E6" stroke-width="4.6" stroke-linecap="round"/>
<path d="M196,316 C204,313.5 212,314.5 215.5,319 C219,324 218.5,332 215,338.5 C211,345.5 203,348 199.5,353 C196,358.5 196,364 191,368 C186,371.5 178,371 174,366.5 C169.5,361.5 169,352 170.5,343 C172,334.5 176,327.5 182,322.5 C186,319 191,317.5 196,316 Z" fill="#A23FAE" stroke="#111" stroke-width="1.6"/>
<circle cx="244.5" cy="462.5" r="5.6" fill="#62B233" stroke="#111" stroke-width="1.2" />
<circle cx="250.3" cy="442.4" r="9.3" fill="#D4481F" stroke="#111" stroke-width="1.3" />
<circle cx="252.5" cy="444" r="5.2" fill="#C03C1C" stroke="#111" stroke-width="1.0" />
<circle cx="251.5" cy="454" r="7.6" fill="#A93A20" stroke="#111" stroke-width="1.2" />
<circle cx="253.5" cy="455" r="4.2" fill="#93301A" stroke="#111" stroke-width="0.9" />
</g>
<path d="M116,250 C113,265 111,278 110.8,292 C110.3,305 110.2,318 111.2,330 C112.3,345 115.3,362 119.5,380 C123,396 126.5,412 130,430 C132.2,442 134.8,450 135.7,458 C136.3,465 136,480 136,500 L136,520 C136,532 137.5,540 141,547 C147,559 160,571 176,575.5 C188,578.5 203,578.5 213,575.5 C229,571 240,559 246,546 C250,537 251,530 251,518 L251,482 C251,470 251.5,462 253,455 C255,447 257,443 258.5,436 C260.5,426 262.5,410 264,395 C265,384 266,376 267.5,367 C269,357 271,348 274,339 C278,327 284.5,316 290,303 C294,292 296,282 295.5,270 C295,258 292.5,245 290.5,236 C288.5,227 287,221 286.5,214" fill="none" stroke="#111" stroke-width="2.0" stroke-linejoin="round"/><path d="M196,162 L196,155 C196,141 204,132 216,132 C228,132 235,141 235,155 L235,212" fill="none" stroke="#111" stroke-width="1.9" stroke-linejoin="round"/>
<path d="M235,212 L234.3,160 C234.3,141 246,127.5 260.5,127.5 C275,127.5 285.5,141 285.5,160 L286.5,216" fill="none" stroke="#111" stroke-width="1.9" stroke-linejoin="round"/>
<path d="M168,181 L168,167 C168,154 172.5,147 181,147 C190.5,147 196,154 196,168 L196,213" fill="none" stroke="#111" stroke-width="1.9" stroke-linejoin="round"/>
<path d="M141,199.5 L141,190 C141,177 145.5,170 155,170 C164.5,170 169.5,177 169.5,190 L169.5,221" fill="none" stroke="#111" stroke-width="1.9" stroke-linejoin="round"/>
<path d="M116,252 L117.5,240 L122.5,220 C123.5,214 124,212 124.5,210 C126,201 129.5,197 135.5,197 C142.5,197 147.5,201.5 147.5,213 L147.5,240 L144.5,250" fill="none" stroke="#111" stroke-width="1.9" stroke-linejoin="round"/><circle cx="215" cy="169.5" r="5.2" fill="#F39A1E" stroke="#111" stroke-width="1.2" />
<circle cx="180.7" cy="178.5" r="4.4" fill="#F39A1E" stroke="#111" stroke-width="1.2" />
<circle cx="154.5" cy="199" r="4.4" fill="#F39A1E" stroke="#111" stroke-width="1.2" />
<circle cx="135.5" cy="219.5" r="4.4" fill="#F39A1E" stroke="#111" stroke-width="1.2" />
<circle cx="261" cy="169.5" r="6.3" fill="#F39A1E" stroke="#111" stroke-width="1.3" />
<circle cx="250" cy="162.5" r="3.2" fill="#27B5E6" stroke="#111" stroke-width="1.1" />
<circle cx="261" cy="182.5" r="3.2" fill="#27B5E6" stroke="#111" stroke-width="1.1" />
<rect x="248.6" y="169" width="2.8" height="28.5" rx="1.4" fill="#A23FAE" stroke="#111" stroke-width="1.1"/>
<path d="M168.29999999999998,207 L170.9,207 L171.3,217 L167.5,217 Z" fill="#FBF6D8" stroke="#111" stroke-width="0.9" stroke-linejoin="round"/>
<path d="M194.7,199 L197.3,199 L197.9,209.5 L194.1,209.5 Z" fill="#FBF6D8" stroke="#111" stroke-width="0.9" stroke-linejoin="round"/>
<path d="M232.89999999999998,198.5 L235.5,198.5 L234.5,208.5 L230.7,208.5 Z" fill="#FBF6D8" stroke="#111" stroke-width="0.9" stroke-linejoin="round"/>
<circle cx="144.3" cy="249.5" r="3.7" fill="#62B233" stroke="#111" stroke-width="1.1" />
<circle cx="169.3" cy="220.2" r="3.7" fill="#62B233" stroke="#111" stroke-width="1.1" />
<circle cx="196" cy="212.6" r="3.7" fill="#62B233" stroke="#111" stroke-width="1.1" />
<circle cx="232" cy="211.6" r="3.7" fill="#62B233" stroke="#111" stroke-width="1.1" />
<circle cx="239" cy="247.5" r="4.6" fill="#F6E343" stroke="#111" stroke-width="1.1" />
<circle cx="199" cy="302.5" r="5" fill="#F6E343" stroke="#111" stroke-width="1.2" />
<circle cx="189.5" cy="317.5" r="7.3" fill="#E1251B" stroke="#111" stroke-width="1.2" />
<circle cx="166" cy="479" r="5.4" fill="#E1251B" stroke="#111" stroke-width="1.1" />
<circle cx="196" cy="486" r="4.6" fill="#B0452F" stroke="#111" stroke-width="1.1" />
<circle cx="212" cy="497" r="4" fill="#B0452F" stroke="#111" stroke-width="1.1" />
<circle cx="195.5" cy="501" r="5" fill="#D3227F" stroke="#111" stroke-width="1.1" />
<circle cx="189" cy="563" r="5" fill="#B0452F" stroke="#111" stroke-width="1.1" /></g>
<circle cx="447" cy="271" r="4.7" fill="#C4209C" stroke="#111" stroke-width="1.1" />
<circle cx="437" cy="302.5" r="4.7" fill="#C4209C" stroke="#111" stroke-width="1.1" />
<circle cx="427" cy="386" r="5" fill="#E1251B" stroke="#111" stroke-width="1.1" />
<circle cx="508.5" cy="386" r="5" fill="#E1251B" stroke="#111" stroke-width="1.1" />
<circle cx="470" cy="371" r="42" fill="none" stroke="#fff" stroke-width="1.8" stroke-dasharray="6.5 4.5"/>
</g>
<g stroke="#6a6a55" stroke-width="0.7" stroke-opacity="0.6" fill="none"><line x1="166" y1="164" x2="180" y2="176"/><line x1="172.5" y1="152.5" x2="211" y2="166"/><line x1="187.5" y1="160" x2="187.5" y2="197"/><line x1="196.5" y1="140" x2="210" y2="190"/><line x1="118" y1="226.1" x2="141" y2="231.2"/><line x1="117" y1="238.1" x2="139" y2="250"/><line x1="145" y1="307.5" x2="196" y2="309"/><line x1="150" y1="349.5" x2="160" y2="349.6"/><line x1="409" y1="142" x2="403" y2="147"/><line x1="451" y1="151" x2="449" y2="160"/><line x1="485" y1="160" x2="484" y2="170"/><line x1="509" y1="181" x2="509" y2="192"/><line x1="529" y1="210" x2="529.5" y2="216"/><line x1="243" y1="379.5" x2="266" y2="380"/><line x1="216" y1="496" x2="212" y2="497"/><line x1="378" y1="212" x2="392" y2="212"/><line x1="412" y1="197" x2="430" y2="199"/></g>
<g stroke="#3a3a3a" stroke-width="1.1" fill="none"><line x1="135" y1="139" x2="136" y2="200"/>
<line x1="135" y1="139" x2="146" y2="174"/>
<line x1="135" y1="139" x2="166" y2="164"/>
<line x1="135" y1="139" x2="172.5" y2="152.5"/>
<line x1="189" y1="113" x2="187.5" y2="160"/>
<line x1="189" y1="113" x2="196.5" y2="140"/>
<line x1="226" y1="116.5" x2="239" y2="150"/>
<line x1="262" y1="108" x2="262" y2="161"/>
<line x1="79" y1="217.5" x2="118" y2="226.1"/>
<line x1="79" y1="217.5" x2="117" y2="238.1"/>
<line x1="83" y1="277.5" x2="121" y2="285.5"/>
<line x1="77.5" y1="305" x2="145" y2="307.5"/>
<line x1="101" y1="349" x2="150" y2="349.5"/>
<line x1="103" y1="367.5" x2="138" y2="376"/>
<line x1="102" y1="393" x2="126" y2="394"/>
<line x1="107" y1="403" x2="150" y2="403"/>
<line x1="114" y1="436" x2="137.5" y2="436"/>
<line x1="123" y1="442.5" x2="155" y2="442.5"/>
<line x1="126" y1="454" x2="152.5" y2="453"/>
<line x1="127" y1="478" x2="160" y2="478.5"/>
<line x1="189" y1="592.5" x2="189" y2="579"/>
<line x1="294" y1="169" x2="250" y2="195"/>
<line x1="296" y1="227" x2="266" y2="241.5"/>
<line x1="295" y1="312" x2="282.5" y2="311"/>
<line x1="291" y1="326" x2="281" y2="322"/>
<line x1="287" y1="337" x2="276" y2="335.5"/>
<line x1="278" y1="357.5" x2="268" y2="357.5"/>
<line x1="278" y1="381" x2="266" y2="380"/>
<line x1="274" y1="419.5" x2="261" y2="419"/>
<line x1="270.5" y1="454" x2="256" y2="454"/>
<line x1="266" y1="479.5" x2="216" y2="496"/>
<line x1="261" y1="520.5" x2="200" y2="502"/>
<line x1="257.5" y1="556" x2="240" y2="551"/>
<line x1="351" y1="151" x2="411" y2="168"/>
<line x1="351" y1="151" x2="400" y2="186"/>
<line x1="365" y1="180" x2="377.5" y2="184.5"/>
<line x1="370.5" y1="192.5" x2="412" y2="197"/>
<line x1="367" y1="212" x2="378" y2="212"/>
<line x1="346" y1="248" x2="421" y2="254.5"/>
<line x1="346" y1="248" x2="384" y2="281"/>
<line x1="367" y1="299.5" x2="375.5" y2="300"/>
<line x1="372.5" y1="338" x2="386" y2="336"/>
<line x1="382" y1="349.5" x2="391.5" y2="349.5"/>
<line x1="387.5" y1="376" x2="398" y2="376"/>
<line x1="390" y1="394" x2="400.5" y2="394"/>
<line x1="389" y1="417.5" x2="403" y2="414.5"/>
<line x1="391" y1="434" x2="406" y2="433"/>
<line x1="396" y1="448" x2="407" y2="448"/>
<line x1="397" y1="480" x2="413" y2="474.5"/>
<line x1="396" y1="513" x2="412" y2="509.5"/>
<line x1="498" y1="74.5" x2="409" y2="142"/>
<line x1="498" y1="74.5" x2="451" y2="151"/>
<line x1="498" y1="74.5" x2="485" y2="160"/>
<line x1="498" y1="74.5" x2="509" y2="181"/>
<line x1="498" y1="74.5" x2="529" y2="210"/>
<line x1="561" y1="258" x2="553" y2="258"/>
<line x1="566" y1="273" x2="534" y2="270"/>
<line x1="571.5" y1="287" x2="451" y2="271.5"/>
<line x1="568" y1="297" x2="441" y2="302"/>
<line x1="567" y1="312" x2="505" y2="296"/>
<line x1="568.5" y1="327" x2="509" y2="313"/>
<line x1="567" y1="341" x2="482" y2="323"/>
<line x1="566" y1="359" x2="521" y2="357.5"/>
<line x1="563.5" y1="380" x2="546.5" y2="375"/>
<line x1="562" y1="398" x2="539" y2="392"/>
<line x1="561" y1="415.5" x2="538" y2="409"/>
<line x1="558" y1="435.5" x2="509" y2="426"/>
<line x1="547" y1="462.5" x2="500" y2="456.5"/>
<line x1="545" y1="481" x2="504" y2="477"/>
<line x1="541.5" y1="502" x2="478" y2="493"/>
<line x1="547.5" y1="546" x2="521" y2="541"/>
<line x1="512" y1="585" x2="479" y2="570.5"/></g>
<g fill="#8E1B16"><circle cx="135" cy="139" r="2.1"/>
<circle cx="189" cy="113" r="2.1"/>
<circle cx="226" cy="116.5" r="2.1"/>
<circle cx="262" cy="108" r="2.1"/>
<circle cx="79" cy="217.5" r="2.1"/>
<circle cx="83" cy="277.5" r="2.1"/>
<circle cx="77.5" cy="305" r="2.1"/>
<circle cx="101" cy="349" r="2.1"/>
<circle cx="103" cy="367.5" r="2.1"/>
<circle cx="102" cy="393" r="2.1"/>
<circle cx="107" cy="403" r="2.1"/>
<circle cx="114" cy="436" r="2.1"/>
<circle cx="123" cy="442.5" r="2.1"/>
<circle cx="126" cy="454" r="2.1"/>
<circle cx="127" cy="478" r="2.1"/>
<circle cx="189" cy="592.5" r="2.1"/>
<circle cx="294" cy="169" r="2.1"/>
<circle cx="296" cy="227" r="2.1"/>
<circle cx="295" cy="312" r="2.1"/>
<circle cx="291" cy="326" r="2.1"/>
<circle cx="287" cy="337" r="2.1"/>
<circle cx="278" cy="357.5" r="2.1"/>
<circle cx="278" cy="381" r="2.1"/>
<circle cx="274" cy="419.5" r="2.1"/>
<circle cx="270.5" cy="454" r="2.1"/>
<circle cx="266" cy="479.5" r="2.1"/>
<circle cx="261" cy="520.5" r="2.1"/>
<circle cx="257.5" cy="556" r="2.1"/>
<circle cx="351" cy="151" r="2.1"/>
<circle cx="365" cy="180" r="2.1"/>
<circle cx="370.5" cy="192.5" r="2.1"/>
<circle cx="367" cy="212" r="2.1"/>
<circle cx="357.5" cy="224" r="2.1"/>
<circle cx="346" cy="248" r="2.1"/>
<circle cx="367" cy="299.5" r="2.1"/>
<circle cx="372.5" cy="338" r="2.1"/>
<circle cx="382" cy="349.5" r="2.1"/>
<circle cx="387.5" cy="376" r="2.1"/>
<circle cx="390" cy="394" r="2.1"/>
<circle cx="389" cy="417.5" r="2.1"/>
<circle cx="391" cy="434" r="2.1"/>
<circle cx="396" cy="448" r="2.1"/>
<circle cx="397" cy="480" r="2.1"/>
<circle cx="396" cy="513" r="2.1"/>
<circle cx="498" cy="74.5" r="2.1"/>
<circle cx="561" cy="258" r="2.1"/>
<circle cx="566" cy="273" r="2.1"/>
<circle cx="571.5" cy="287" r="2.1"/>
<circle cx="568" cy="297" r="2.1"/>
<circle cx="567" cy="312" r="2.1"/>
<circle cx="568.5" cy="327" r="2.1"/>
<circle cx="567" cy="341" r="2.1"/>
<circle cx="566" cy="359" r="2.1"/>
<circle cx="563.5" cy="380" r="2.1"/>
<circle cx="562" cy="398" r="2.1"/>
<circle cx="561" cy="415.5" r="2.1"/>
<circle cx="558" cy="435.5" r="2.1"/>
<circle cx="547" cy="462.5" r="2.1"/>
<circle cx="545" cy="481" r="2.1"/>
<circle cx="541.5" cy="502" r="2.1"/>
<circle cx="547.5" cy="546" r="2.1"/>
<circle cx="512" cy="585" r="2.1"/></g>
<g><text x="110" y="132.5" textLength="46.5" lengthAdjust="spacingAndGlyphs">Frontal sinus</text>
<text x="186" y="108" textLength="10.5" lengthAdjust="spacingAndGlyphs">eye</text>
<text x="197.5" y="114" textLength="61.5" lengthAdjust="spacingAndGlyphs">Trigeminal nerve</text>
<text x="247.5" y="102.5" textLength="52.5" lengthAdjust="spacingAndGlyphs">Pituitary gland</text>
<text x="67.5" y="215" textLength="12.5" lengthAdjust="spacingAndGlyphs">ear</text>
<text x="70" y="274" textLength="32.5" lengthAdjust="spacingAndGlyphs">shoulder</text>
<text x="59.5" y="307" textLength="14.5" lengthAdjust="spacingAndGlyphs">liver</text>
<text x="56" y="350.5" textLength="41.0" lengthAdjust="spacingAndGlyphs">gallbladder</text>
<text x="59" y="375.5" textLength="53.5" lengthAdjust="spacingAndGlyphs">Hepatic flexure</text>
<text x="80" y="395.5" textLength="17.0" lengthAdjust="spacingAndGlyphs">knee</text>
<text x="65" y="413" textLength="52.5" lengthAdjust="spacingAndGlyphs">The ascending</text>
<text x="106" y="431" textLength="17.0" lengthAdjust="spacingAndGlyphs">Hip1</text>
<text x="67" y="445" textLength="52.5" lengthAdjust="spacingAndGlyphs">Ileocecal valve</text>
<text x="81" y="458" textLength="39.5" lengthAdjust="spacingAndGlyphs">Appendix1</text>
<text x="88" y="480" textLength="34.5" lengthAdjust="spacingAndGlyphs">Lumbago</text>
<text x="179" y="602" textLength="66.0" lengthAdjust="spacingAndGlyphs">To stop diarrhea2</text>
<text x="290" y="164.5" textLength="41.0" lengthAdjust="spacingAndGlyphs">Cerebellum</text>
<text x="290" y="220.5" textLength="87.5" lengthAdjust="spacingAndGlyphs">Trachea and esophagus</text>
<text x="294.5" y="308" textLength="30.5" lengthAdjust="spacingAndGlyphs">Thyroid2</text>
<text x="296" y="329" textLength="40.0" lengthAdjust="spacingAndGlyphs">Diaphragm</text>
<text x="291" y="341" textLength="23.0" lengthAdjust="spacingAndGlyphs">kidney</text>
<text x="282.5" y="360" textLength="36.5" lengthAdjust="spacingAndGlyphs">pancreas1</text>
<text x="282.5" y="387.5" textLength="63.5" lengthAdjust="spacingAndGlyphs">To stop diarrhea1</text>
<text x="276" y="421" textLength="23.0" lengthAdjust="spacingAndGlyphs">Ureter</text>
<text x="273" y="457" textLength="34.0" lengthAdjust="spacingAndGlyphs">Prostate1</text>
<text x="269.5" y="481" textLength="23.5" lengthAdjust="spacingAndGlyphs">Gujing</text>
<text x="264" y="522.5" textLength="23.0" lengthAdjust="spacingAndGlyphs">gonad</text>
<text x="260" y="559" textLength="25.0" lengthAdjust="spacingAndGlyphs">pelvis1</text>
<text x="331" y="147" textLength="43.0" lengthAdjust="spacingAndGlyphs">Pineal body</text>
<text x="344" y="182.5" textLength="16.0" lengthAdjust="spacingAndGlyphs">nose</text>
<text x="314" y="194" textLength="52.0" lengthAdjust="spacingAndGlyphs">Hypothalamus</text>
<text x="347" y="212" textLength="16.0" lengthAdjust="spacingAndGlyphs">neck</text>
<text x="337" y="232" textLength="30.0" lengthAdjust="spacingAndGlyphs">Thyroid1</text>
<text x="303" y="244.5" textLength="69.0" lengthAdjust="spacingAndGlyphs">Parathyroid glands</text>
<text x="340.5" y="301" textLength="23.5" lengthAdjust="spacingAndGlyphs">heart1</text>
<text x="331" y="334.5" textLength="50.0" lengthAdjust="spacingAndGlyphs">Adrenal gland</text>
<text x="348" y="352" textLength="31.0" lengthAdjust="spacingAndGlyphs">stomach</text>
<text x="342.5" y="379" textLength="40.5" lengthAdjust="spacingAndGlyphs">Duodenum</text>
<text x="326" y="397" textLength="61.0" lengthAdjust="spacingAndGlyphs">Transverse colon</text>
<text x="327" y="414" textLength="60.5" lengthAdjust="spacingAndGlyphs">Uterus 1, ovary 1</text>
<text x="331" y="436" textLength="53.5" lengthAdjust="spacingAndGlyphs">Small intestine</text>
<text x="364" y="450" textLength="28.0" lengthAdjust="spacingAndGlyphs">bladder</text>
<text x="372" y="482" textLength="21.0" lengthAdjust="spacingAndGlyphs">Anus1</text>
<text x="369" y="515" textLength="23.0" lengthAdjust="spacingAndGlyphs">testis1</text>
<text x="491" y="69.5" textLength="18.0" lengthAdjust="spacingAndGlyphs">Brain</text>
<text x="550" y="254" textLength="80.0" lengthAdjust="spacingAndGlyphs">Cervical lymph node1</text>
<text x="569" y="275" textLength="34.5" lengthAdjust="spacingAndGlyphs">Trapezius</text>
<text x="574.5" y="289" textLength="30.5" lengthAdjust="spacingAndGlyphs">thymus1</text>
<text x="558.5" y="305" textLength="60.5" lengthAdjust="spacingAndGlyphs">A bronchial tube</text>
<text x="570" y="315.5" textLength="27.0" lengthAdjust="spacingAndGlyphs">Asthma</text>
<text x="570" y="329" textLength="25.0" lengthAdjust="spacingAndGlyphs">heart2</text>
<text x="556.5" y="347.5" textLength="58.5" lengthAdjust="spacingAndGlyphs">Yongquan point</text>
<text x="568.5" y="361" textLength="46.5" lengthAdjust="spacingAndGlyphs">Celiac plexus</text>
<text x="566.5" y="382.5" textLength="22.5" lengthAdjust="spacingAndGlyphs">spleen</text>
<text x="550" y="406" textLength="63.0" lengthAdjust="spacingAndGlyphs">Splenic curvature</text>
<text x="565" y="417.5" textLength="11.0" lengthAdjust="spacingAndGlyphs">lap</text>
<text x="546" y="444" textLength="65.5" lengthAdjust="spacingAndGlyphs">Descending colon</text>
<text x="551.5" y="465" textLength="52.5" lengthAdjust="spacingAndGlyphs">Sigmoid colon</text>
<text x="547" y="484" textLength="30.0" lengthAdjust="spacingAndGlyphs">rectum1</text>
<text x="544" y="504.5" textLength="54.5" lengthAdjust="spacingAndGlyphs">Insomnia point</text>
<text x="549.5" y="549" textLength="49.5" lengthAdjust="spacingAndGlyphs">Sciatic nerve1</text>
<text x="517" y="587.5" textLength="19.0" lengthAdjust="spacingAndGlyphs">Sleep</text></g>
</svg></body></html>
